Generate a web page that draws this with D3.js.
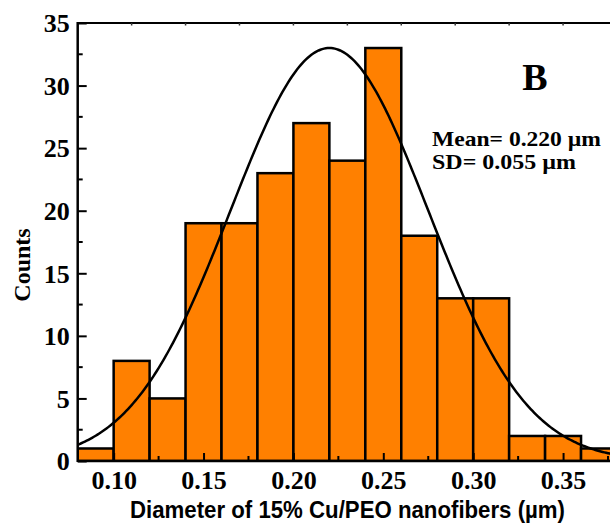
<!DOCTYPE html>
<html>
<head>
<meta charset="utf-8">
<script src="https://cdn.jsdelivr.net/npm/d3@7"></script>
<style>
html,body{margin:0;padding:0;background:#fff;}
svg{display:block;}
</style>
</head>
<body>
<script>
// ---- data ----
const binStarts = [0.08,0.10,0.12,0.14,0.16,0.18,0.20,0.22,0.24,0.26,0.28,0.30,0.32,0.34,0.36];
const binWidth = 0.02;
const counts = [1,8,5,19,19,23,27,24,33,18,13,13,2,2,1];
const xTickValues = [0.10,0.15,0.20,0.25,0.30,0.35];
const xTickLabels = ["0.10","0.15","0.20","0.25","0.30","0.35"];
const xMinorTicks = [0.125,0.175,0.225,0.275,0.325,0.375];
const topTicks = [0.11,0.14,0.17,0.20,0.23,0.26,0.29,0.32,0.35];
const yTickValues = [0,5,10,15,20,25,30,35];
const yMinorTicks = [2.5,7.5,12.5,17.5,22.5,27.5,32.5];
const fitMean = 0.220, fitSD = 0.055, fitPeak = 33;
const statLines = ["Mean= 0.220 \u00b5m","SD= 0.055 \u00b5m"];

const W = 610, H = 525;
const svg = d3.select("body").append("svg").attr("width", W).attr("height", H);
svg.append("rect").attr("width", W).attr("height", H).attr("fill", "#fff");

const x = d3.scaleLinear().domain([0.08, 0.38]).range([77.7, 617]);
const y = d3.scaleLinear().domain([0, 35]).range([461, 23]);

svg.append("clipPath").attr("id","clip").append("rect")
  .attr("x", 77.7).attr("y", 23).attr("width", 540).attr("height", 438);

const plot = svg.append("g").attr("clip-path","url(#clip)");

// bars
plot.selectAll("rect.bar").data(binStarts.map((s,i)=>({s, c:counts[i]})))
  .join("rect").attr("class","bar")
  .attr("x", d => x(d.s))
  .attr("y", d => y(d.c))
  .attr("width", d => x(d.s + binWidth) - x(d.s))
  .attr("height", d => y(0) - y(d.c))
  .attr("fill", "#FF8000")
  .attr("stroke", "#000")
  .attr("stroke-width", 2.5);

// fitted gaussian curve
const curvePts = d3.range(0.07, 0.40, 0.001).map(v => [v, fitPeak*Math.exp(-((v-fitMean)**2)/(2*fitSD*fitSD))]);
plot.append("path").datum(curvePts)
  .attr("fill","none").attr("stroke","#000").attr("stroke-width",2.5)
  .attr("d", d3.line().x(d=>x(d[0])).y(d=>y(d[1])));

// axes
const serif = "'Liberation Serif','Times New Roman',serif";
const sans = "'Liberation Sans',Arial,sans-serif";

// bottom axis (ticks inward)
const xAxis = d3.axisBottom(x).tickValues(xTickValues).tickSize(-8).tickSizeOuter(0)
  .tickFormat((d,i)=>xTickLabels[i]).tickPadding(10);
const gx = svg.append("g").attr("transform", `translate(0,${y(0)})`).call(xAxis);
gx.select(".domain").remove();
gx.selectAll(".tick line").attr("stroke","#000").attr("stroke-width",2);
gx.selectAll(".tick text").attr("font-family", serif).attr("font-weight","bold")
  .attr("font-size", 26).attr("fill","#000");
svg.append("g").selectAll("line").data(xMinorTicks).join("line")
  .attr("x1", d=>x(d)).attr("x2", d=>x(d)).attr("y1", y(0)).attr("y2", y(0)-5)
  .attr("stroke","#000").attr("stroke-width",2);
svg.append("line").attr("x1", 77.7).attr("x2", W).attr("y1", y(0)).attr("y2", y(0))
  .attr("stroke","#000").attr("stroke-width",2.5);

// top axis
svg.append("line").attr("x1", 77.7).attr("x2", W).attr("y1", 23).attr("y2", 23)
  .attr("stroke","#000").attr("stroke-width",2);
svg.append("g").selectAll("line").data(topTicks).join("line")
  .attr("x1", d=>x(d)).attr("x2", d=>x(d)).attr("y1", 23).attr("y2", 25.5)
  .attr("stroke","#333").attr("stroke-width",1.5);

// left axis
const yAxis = d3.axisLeft(y).tickValues(yTickValues).tickSize(-9).tickSizeOuter(0).tickPadding(8);
const gy = svg.append("g").attr("transform", `translate(77.7,0)`).call(yAxis);
gy.select(".domain").remove();
gy.selectAll(".tick line").attr("stroke","#000").attr("stroke-width",2);
gy.selectAll(".tick text").attr("font-family", serif).attr("font-weight","bold")
  .attr("font-size", 26).attr("fill","#000").attr("dy","0.34em");
svg.append("g").selectAll("line").data(yMinorTicks).join("line")
  .attr("x1", 77.7).attr("x2", 77.7+5).attr("y1", d=>y(d)).attr("y2", d=>y(d))
  .attr("stroke","#000").attr("stroke-width",2);
svg.append("line").attr("x1", 77.7).attr("x2", 77.7).attr("y1", 22).attr("y2", y(0)+1)
  .attr("stroke","#000").attr("stroke-width",2.5);

// axis labels
svg.append("text").attr("transform","translate(30,265) rotate(-90)")
  .attr("text-anchor","middle").attr("font-family", serif).attr("font-weight","bold")
  .attr("font-size", 24).attr("fill","#000").text("Counts");

svg.append("text").attr("x", 130).attr("y", 518)
  .attr("font-family", sans).attr("font-weight","bold").attr("font-size", 24)
  .attr("textLength", 435).attr("lengthAdjust","spacingAndGlyphs")
  .attr("fill","#000").text("Diameter of 15% Cu/PEO nanofibers (\u00b5m)");

// panel letter and stats
svg.append("text").attr("x", 535).attr("y", 90).attr("text-anchor","middle")
  .attr("font-family", serif).attr("font-weight","bold").attr("font-size", 38)
  .attr("fill","#000").text("B");
svg.append("text").attr("x", 432).attr("y", 146)
  .attr("font-family", serif).attr("font-weight","bold").attr("font-size", 21)
  .attr("textLength", 169).attr("lengthAdjust","spacingAndGlyphs")
  .attr("fill","#000").text(statLines[0]);
svg.append("text").attr("x", 432).attr("y", 169)
  .attr("font-family", serif).attr("font-weight","bold").attr("font-size", 21)
  .attr("textLength", 144).attr("lengthAdjust","spacingAndGlyphs")
  .attr("fill","#000").text(statLines[1]);
</script>
</body>
</html>
